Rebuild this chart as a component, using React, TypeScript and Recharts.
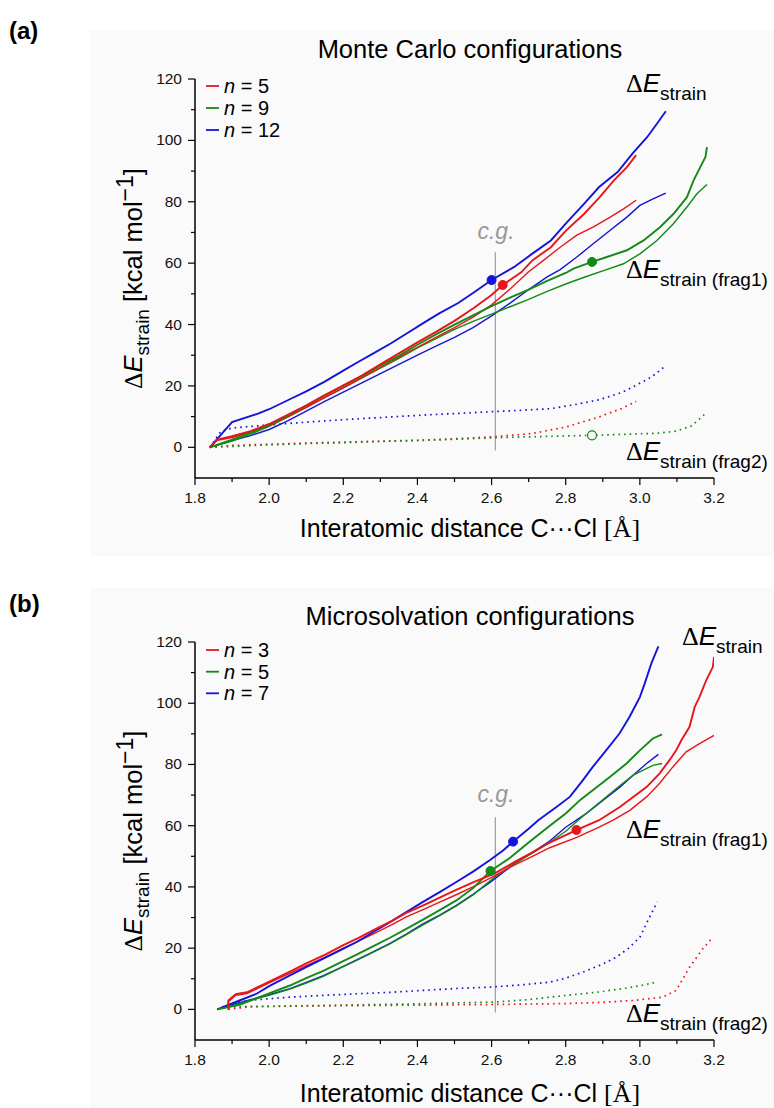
import React from "react";
import { ComposedChart, Line, XAxis, YAxis, ReferenceDot, ReferenceLine } from "recharts";

type Pt = [number, number];

const FONT = "'Liberation Sans', Arial, sans-serif";
const SERIF = "'Liberation Serif', 'Times New Roman', serif";

const RED = "#e8161b";
const GREEN = "#138a13";
const BLUE = "#1414d8";
const PANEL_BG = "#fafafa";

// axes
const xTicks = [1.8, 1.9, 2.0, 2.1, 2.2, 2.3, 2.4, 2.5, 2.6, 2.7, 2.8, 2.9, 3.0, 3.1, 3.2];
const xTickLabels = ["1.8", "", "2.0", "", "2.2", "", "2.4", "", "2.6", "", "2.8", "", "3.0", "", "3.2"];
const yTicks = [0, 10, 20, 30, 40, 50, 60, 70, 80, 90, 100, 110, 120];
const yTickLabels = ["0", "", "20", "", "40", "", "60", "", "80", "", "100", "", "120"];

// (a) Monte Carlo configurations, n = 5 / 9 / 12
const mcNs = ["5", "9", "12"];
const mcTotalN5: Pt[] = [[1.84,0],[1.86,2.5],[1.9,3.6],[1.95,5.3],[2.0,7.6],[2.05,10.6],[2.1,13.6],[2.15,16.9],[2.2,20.2],[2.25,23.4],[2.3,27.0],[2.35,30.6],[2.4,34.2],[2.45,37.6],[2.5,41.2],[2.55,45.2],[2.6,49.6],[2.63,52.9],[2.68,57.0],[2.71,60.9],[2.76,65.2],[2.8,70.5],[2.85,76.1],[2.89,81.3],[2.93,87.0],[2.965,91.3],[2.99,95.2]];
const mcFrag1N5: Pt[] = [[1.84,0],[1.86,2.3],[1.9,3.2],[1.95,4.9],[2.0,7.1],[2.05,10.0],[2.1,13.0],[2.15,16.2],[2.2,19.4],[2.25,22.6],[2.3,26.0],[2.35,29.4],[2.4,32.6],[2.45,35.8],[2.5,39.0],[2.55,42.4],[2.6,46.4],[2.65,51.6],[2.7,57.2],[2.74,60.9],[2.785,65.2],[2.83,69.1],[2.875,71.8],[2.92,75.0],[2.956,77.7],[2.99,80.5]];
const mcFrag2N5: Pt[] = [[1.84,0],[1.9,0.6],[2.0,1.0],[2.1,1.4],[2.2,1.7],[2.3,2.0],[2.4,2.3],[2.5,2.8],[2.6,3.4],[2.71,4.5],[2.8,6.6],[2.89,9.9],[2.95,12.6],[2.99,15.0]];

const mcTotalN9: Pt[] = [[1.84,0],[1.9,2.5],[1.95,4.8],[2.0,7.3],[2.05,10.4],[2.1,13.6],[2.15,17.0],[2.2,20.0],[2.25,23.2],[2.3,26.6],[2.35,29.8],[2.4,33.4],[2.45,36.8],[2.5,40.0],[2.55,43.0],[2.6,46.0],[2.65,48.8],[2.7,51.4],[2.75,54.2],[2.8,56.8],[2.821,58.2],[2.871,60.4],[2.911,62.0],[2.965,64.2],[3.01,67.4],[3.055,71.8],[3.091,76.1],[3.127,81.5],[3.145,87.0],[3.163,91.3],[3.177,94.6],[3.181,97.8]];
const mcFrag1N9: Pt[] = [[1.84,0],[1.9,2.0],[1.95,4.3],[2.0,6.8],[2.05,9.8],[2.1,13.0],[2.15,16.3],[2.2,19.4],[2.25,22.6],[2.3,25.8],[2.35,29.0],[2.4,32.4],[2.45,35.4],[2.5,38.4],[2.55,41.0],[2.6,43.4],[2.65,45.8],[2.7,48.2],[2.75,50.8],[2.8,53.2],[2.85,55.4],[2.9,57.5],[2.956,59.8],[3.001,63.1],[3.046,67.4],[3.091,72.9],[3.127,78.3],[3.154,82.6],[3.181,85.6]];
const mcFrag2N9: Pt[] = [[1.84,0],[1.9,0.3],[2.0,0.8],[2.1,1.2],[2.2,1.5],[2.3,1.9],[2.4,2.2],[2.5,2.6],[2.6,3.1],[2.7,3.4],[2.8,3.7],[2.87,3.9],[2.95,4.2],[3.05,4.6],[3.1,5.3],[3.14,7.0],[3.18,11.3]];

const mcTotalN12: Pt[] = [[1.84,0],[1.9,8.2],[1.97,11.0],[2.0,12.4],[2.06,15.9],[2.1,18.2],[2.15,21.4],[2.2,25.0],[2.24,27.8],[2.28,30.5],[2.33,34.0],[2.37,37.0],[2.42,40.8],[2.46,43.7],[2.51,47.0],[2.55,50.3],[2.6,54.5],[2.66,58.7],[2.71,63.1],[2.76,67.4],[2.8,72.9],[2.85,79.4],[2.89,84.8],[2.94,89.7],[2.98,95.7],[3.02,101.1],[3.046,105.4],[3.07,109.5]];
const mcFrag1N12: Pt[] = [[1.84,0],[1.9,2.2],[1.95,3.8],[2.0,5.8],[2.05,8.6],[2.1,11.8],[2.15,15.0],[2.2,18.0],[2.25,21.0],[2.3,24.0],[2.35,27.0],[2.4,30.0],[2.45,33.0],[2.5,35.8],[2.55,39.0],[2.6,42.8],[2.65,47.0],[2.7,51.4],[2.75,55.5],[2.785,57.9],[2.83,62.0],[2.875,66.4],[2.92,70.7],[2.965,75.0],[3.0,78.8],[3.037,81.0],[3.07,82.8]];
const mcFrag2N12: Pt[] = [[1.84,0],[1.87,5.2],[1.9,6.3],[2.0,7.3],[2.1,8.2],[2.2,9.0],[2.3,9.7],[2.4,10.4],[2.5,11.0],[2.6,11.6],[2.7,12.2],[2.76,12.6],[2.82,13.8],[2.89,15.5],[2.95,17.8],[2.98,19.6],[3.03,22.8],[3.07,26.6]];

// (b) Microsolvation configurations, n = 3 / 5 / 7
const msNs = ["3", "5", "7"];
const msTotalN3: Pt[] = [[1.89,0],[1.89,2.9],[1.91,5.0],[1.94,5.6],[1.975,7.6],[2.02,10.2],[2.06,12.6],[2.1,15.0],[2.15,17.8],[2.2,21.0],[2.24,23.3],[2.28,25.8],[2.33,28.8],[2.37,31.5],[2.42,34.2],[2.46,36.5],[2.5,38.8],[2.55,41.5],[2.61,44.5],[2.66,48.0],[2.71,51.3],[2.757,54.5],[2.83,58.6],[2.89,61.8],[2.946,66.1],[2.982,69.4],[3.018,72.6],[3.053,77.0],[3.08,81.4],[3.098,84.6],[3.112,87.9],[3.134,92.3],[3.148,98.8],[3.161,102.1],[3.179,107.5],[3.197,111.9],[3.2,115.1]];
const msFrag1N3: Pt[] = [[1.89,0],[1.89,2.5],[1.91,4.6],[1.94,5.2],[1.975,7.2],[2.02,9.8],[2.06,12.0],[2.1,14.3],[2.15,17.0],[2.2,20.0],[2.24,22.2],[2.28,24.6],[2.33,27.6],[2.37,30.2],[2.42,32.8],[2.46,35.0],[2.5,37.2],[2.56,40.6],[2.61,43.8],[2.66,47.0],[2.71,50.0],[2.757,52.8],[2.83,56.2],[2.89,59.5],[2.928,61.8],[2.973,65.0],[3.018,69.4],[3.053,73.8],[3.089,79.2],[3.125,84.1],[3.161,86.8],[3.2,89.5]];
const msFrag2N3: Pt[] = [[1.89,0],[1.95,0.9],[2.1,1.1],[2.3,1.3],[2.5,1.5],[2.61,1.6],[2.8,1.9],[2.9,2.3],[2.982,2.9],[3.062,4.0],[3.098,6.2],[3.134,13.8],[3.17,19.8],[3.197,23.6]];

const msTotalN5: Pt[] = [[1.86,0],[1.92,1.5],[1.97,3.8],[2.0,5.2],[2.056,7.8],[2.1,10.2],[2.146,12.6],[2.19,15.2],[2.236,17.9],[2.28,20.6],[2.326,23.4],[2.37,26.3],[2.415,29.3],[2.46,32.4],[2.505,35.6],[2.55,39.6],[2.597,45.2],[2.65,49.5],[2.7,54.5],[2.757,60.0],[2.8,64.0],[2.84,68.5],[2.873,71.6],[2.919,75.9],[2.964,80.3],[3.0,84.6],[3.035,88.5],[3.06,89.8]];
const msFrag1N5: Pt[] = [[1.86,0],[1.9,1.2],[1.95,3.0],[2.0,4.6],[2.056,6.6],[2.1,8.6],[2.146,10.8],[2.19,13.4],[2.236,16.0],[2.28,18.6],[2.326,21.4],[2.37,24.4],[2.415,27.6],[2.46,30.6],[2.505,33.8],[2.55,37.4],[2.61,43.4],[2.66,47.5],[2.71,51.0],[2.757,54.5],[2.8,58.2],[2.85,63.5],[2.9,68.5],[2.94,72.5],[2.982,76.5],[3.035,79.7],[3.06,80.3]];
const msFrag2N5: Pt[] = [[1.86,0],[1.9,0.8],[2.0,1.0],[2.1,1.2],[2.2,1.4],[2.3,1.6],[2.4,1.8],[2.5,2.1],[2.61,2.4],[2.7,3.2],[2.757,4.0],[2.82,4.8],[2.892,5.7],[2.982,7.3],[3.047,8.9]];

const msTotalN7: Pt[] = [[1.86,0],[1.92,2.9],[1.966,5.1],[2.0,7.6],[2.056,11.1],[2.1,13.8],[2.146,16.6],[2.19,19.2],[2.236,22.0],[2.28,25.2],[2.326,28.5],[2.37,31.8],[2.415,35.1],[2.46,38.3],[2.505,41.6],[2.55,45.0],[2.595,48.7],[2.63,51.8],[2.66,55.0],[2.7,59.0],[2.726,61.8],[2.775,66.1],[2.811,69.4],[2.846,74.8],[2.873,79.2],[2.909,84.6],[2.945,90.1],[2.972,95.5],[3.0,102.0],[3.013,106.4],[3.031,113.0],[3.05,118.6]];
const msFrag1N7: Pt[] = [[1.86,0],[1.9,1.5],[1.95,3.2],[2.0,4.8],[2.056,6.8],[2.1,8.8],[2.146,11.0],[2.19,13.5],[2.236,16.2],[2.28,18.8],[2.326,21.6],[2.37,24.6],[2.415,27.9],[2.46,30.8],[2.505,34.0],[2.55,37.6],[2.595,41.4],[2.65,46.5],[2.7,50.5],[2.757,55.0],[2.8,59.5],[2.856,64.0],[2.901,68.3],[2.946,72.6],[2.982,76.5],[3.018,80.3],[3.05,83.3]];
const msFrag2N7: Pt[] = [[1.86,0],[1.894,1.9],[1.95,3.0],[2.056,4.0],[2.15,4.6],[2.236,5.1],[2.33,5.6],[2.415,6.2],[2.5,6.8],[2.6,7.3],[2.68,8.0],[2.757,8.9],[2.8,10.2],[2.847,12.2],[2.9,14.8],[2.937,17.1],[2.97,20.0],[3.0,23.6],[3.022,29.1],[3.047,35.1]];

// c.g. markers
const mcDots: Pt[] = [[2.63, 52.9], [2.871, 60.4], [2.6, 54.5]];
const mcOpenDot: Pt = [2.871, 3.9];
const msDots: Pt[] = [[2.829, 58.6], [2.597, 45.2], [2.658, 54.8]];
const cgX = 2.61;

interface Series { pts: Pt[]; color: string; kind: "total" | "frag1" | "frag2" }

const toRows = (pts: Pt[]) => pts.map(([x, y]) => ({ x, y }));

const mcSeries: Series[] = [
  { pts: mcFrag2N5, color: RED, kind: "frag2" },
  { pts: mcFrag2N9, color: GREEN, kind: "frag2" },
  { pts: mcFrag2N12, color: BLUE, kind: "frag2" },
  { pts: mcFrag1N12, color: BLUE, kind: "frag1" },
  { pts: mcFrag1N9, color: GREEN, kind: "frag1" },
  { pts: mcFrag1N5, color: RED, kind: "frag1" },
  { pts: mcTotalN12, color: BLUE, kind: "total" },
  { pts: mcTotalN9, color: GREEN, kind: "total" },
  { pts: mcTotalN5, color: RED, kind: "total" },
];

const msSeries: Series[] = [
  { pts: msFrag2N3, color: RED, kind: "frag2" },
  { pts: msFrag2N5, color: GREEN, kind: "frag2" },
  { pts: msFrag2N7, color: BLUE, kind: "frag2" },
  { pts: msFrag1N7, color: BLUE, kind: "frag1" },
  { pts: msFrag1N5, color: GREEN, kind: "frag1" },
  { pts: msFrag1N3, color: RED, kind: "frag1" },
  { pts: msTotalN7, color: BLUE, kind: "total" },
  { pts: msTotalN5, color: GREEN, kind: "total" },
  { pts: msTotalN3, color: RED, kind: "total" },
];

const legendColors = [RED, GREEN, BLUE];

function XTick(props: any) {
  const { x, y, index } = props;
  const label = xTickLabels[index];
  const major = label !== "";
  return (
    <g>
      <line x1={x} x2={x} y1={y} y2={y + (major ? 7 : 4)} stroke="#000" strokeWidth={1.2} />
      {major && (
        <text x={x} y={y + 25} textAnchor="middle" fontFamily={FONT} fontSize={15.5} fill="#111">
          {label}
        </text>
      )}
    </g>
  );
}

function YTick(props: any) {
  const { x, y, index } = props;
  const label = yTickLabels[index];
  const major = label !== "";
  return (
    <g>
      <line x1={x} x2={x - (major ? 7 : 4)} y1={y} y2={y} stroke="#000" strokeWidth={1.2} />
      {major && (
        <text x={x - 13} y={y + 5} textAnchor="end" fontFamily={FONT} fontSize={15.5} fill="#111">
          {label}
        </text>
      )}
    </g>
  );
}

function DeltaE({ x, y, sub }: { x: number; y: number; sub: string }) {
  return (
    <text x={x} y={y} fontFamily={FONT} fontSize={26} fill="#000">
      <tspan fontFamily={SERIF}>Δ</tspan>
      <tspan fontStyle="italic">E</tspan>
      <tspan fontSize={19} dy={8}>{sub}</tspan>
    </text>
  );
}

interface PanelProps {
  top: number;
  height: number;
  plotTop: number;
  plotBottom: number;
  letter: string;
  letterY: number;
  title: string;
  titleY: number;
  ns: string[];
  legendY: number[];
  series: Series[];
  dots: Pt[];
  openDot?: Pt;
  cgTop: number;
  cgY: number;
  labelTop: [number, number];
  labelFrag1: [number, number];
  labelFrag2: [number, number];
  xTitleY: number;
}

function Panel(p: PanelProps) {
  const W = 774;
  const yAxisW = 60;
  const left = 135;
  const right = 60;
  const xAxisH = p.height - p.plotBottom;
  const yMid = (p.plotTop + p.plotBottom) / 2;
  return (
    <div style={{ position: "absolute", left: 0, top: p.top, width: W, height: p.height }}>
      <div style={{ position: "absolute", left: 90, top: 30, width: W - 90, height: p.height - 30, background: PANEL_BG }} />
      <div style={{ position: "absolute", left: 0, top: 0 }}>
        <ComposedChart width={W} height={p.height} margin={{ top: p.plotTop, right, bottom: 0, left }}>
          <XAxis
            dataKey="x"
            type="number"
            domain={[1.8, 3.2]}
            ticks={xTicks}
            interval={0}
            tick={<XTick />}
            tickLine={false}
            tickSize={0}
            tickMargin={0}
            axisLine={{ stroke: "#000", strokeWidth: 1.5 }}
            height={xAxisH}
            allowDataOverflow
          />
          <YAxis
            type="number"
            domain={[-10, 120]}
            ticks={yTicks}
            interval={0}
            tick={<YTick />}
            tickLine={false}
            tickSize={0}
            tickMargin={0}
            axisLine={{ stroke: "#000", strokeWidth: 1.5 }}
            width={yAxisW}
            allowDataOverflow
          />
          <ReferenceLine
            segment={[{ x: cgX, y: -1 }, { x: cgX, y: p.cgTop }]}
            stroke="#8a8a8a"
            strokeWidth={1}
            ifOverflow="extendDomain"
          />
          {p.series.map((s, i) => (
            <Line
              key={i}
              data={toRows(s.pts)}
              dataKey="y"
              type="linear"
              stroke={s.color}
              strokeWidth={s.kind === "total" ? 1.9 : s.kind === "frag1" ? 1.4 : 1.7}
              strokeDasharray={s.kind === "frag2" ? "1.6 4" : undefined}
              dot={false}
              activeDot={false}
              isAnimationActive={false}
            />
          ))}
          {p.dots.map((d, i) => (
            <ReferenceDot key={i} x={d[0]} y={d[1]} r={4.5} fill={legendColors[i]} stroke={legendColors[i]} strokeWidth={1} />
          ))}
          {p.openDot && (
            <ReferenceDot x={p.openDot[0]} y={p.openDot[1]} r={4.5} fill={PANEL_BG} stroke={GREEN} strokeWidth={1.2} />
          )}
        </ComposedChart>
      </div>
      <svg width={W} height={p.height} style={{ position: "absolute", left: 0, top: 0, pointerEvents: "none" }}>
        <text x={9} y={p.letterY} fontFamily={FONT} fontWeight="bold" fontSize={24} fill="#000">{p.letter}</text>
        <text x={470} y={p.titleY} textAnchor="middle" fontFamily={FONT} fontSize={25.5} fill="#000">{p.title}</text>
        {p.ns.map((n, i) => (
          <g key={n}>
            <line x1={206} x2={219} y1={p.legendY[i] - 7} y2={p.legendY[i] - 7} stroke={legendColors[i]} strokeWidth={1.8} />
            <text x={224} y={p.legendY[i]} fontFamily={FONT} fontSize={20} fill="#000">
              <tspan fontStyle="italic">n</tspan> = {n}
            </text>
          </g>
        ))}
        <text x={496} y={p.cgY} textAnchor="middle" fontFamily={FONT} fontStyle="italic" fontSize={23} fill="#999">c.g.</text>
        <DeltaE x={p.labelTop[0]} y={p.labelTop[1]} sub="strain" />
        <DeltaE x={p.labelFrag1[0]} y={p.labelFrag1[1]} sub="strain (frag1)" />
        <DeltaE x={p.labelFrag2[0]} y={p.labelFrag2[1]} sub="strain (frag2)" />
        <g transform={`translate(142, ${yMid}) rotate(-90)`}>
          <text x={0} y={0} textAnchor="middle" fontFamily={FONT} fontSize={25.5} fill="#000">
            <tspan fontFamily={SERIF}>Δ</tspan>
            <tspan fontStyle="italic">E</tspan>
            <tspan fontSize={19} dy={7}>strain</tspan>
            <tspan dy={-7}>{"  [kcal mol"}</tspan>
            <tspan dy={-9} fontSize={23}>−1</tspan>
            <tspan dy={9}>]</tspan>
          </text>
        </g>
        <text x={470} y={p.xTitleY} textAnchor="middle" fontFamily={FONT} fontSize={25} fill="#000">
          Interatomic distance C···Cl <tspan fontFamily={SERIF} fontSize={26}>[Å]</tspan>
        </text>
      </svg>
    </div>
  );
}

export default function App() {
  return (
    <div style={{ position: "absolute", left: 0, top: 0, width: 774, height: 1108, background: "#fff", overflow: "hidden" }}>
      <Panel
        top={0}
        height={556}
        plotTop={79}
        plotBottom={478}
        letter="(a)"
        letterY={39}
        title="Monte Carlo configurations"
        titleY={58}
        ns={mcNs}
        legendY={[93, 115, 137]}
        series={mcSeries}
        dots={mcDots}
        openDot={mcOpenDot}
        cgTop={63.6}
        cgY={239}
        labelTop={[626, 92]}
        labelFrag1={[626, 278]}
        labelFrag2={[626, 460]}
        xTitleY={537}
      />
      <Panel
        top={558}
        height={550}
        plotTop={84}
        plotBottom={482}
        letter="(b)"
        letterY={54}
        title="Microsolvation configurations"
        titleY={67}
        ns={msNs}
        legendY={[99, 120.7, 142.3]}
        series={msSeries}
        dots={msDots}
        cgTop={62.8}
        cgY={244}
        labelTop={[682, 87]}
        labelFrag1={[626, 280]}
        labelFrag2={[626, 464]}
        xTitleY={544}
      />
    </div>
  );
}
